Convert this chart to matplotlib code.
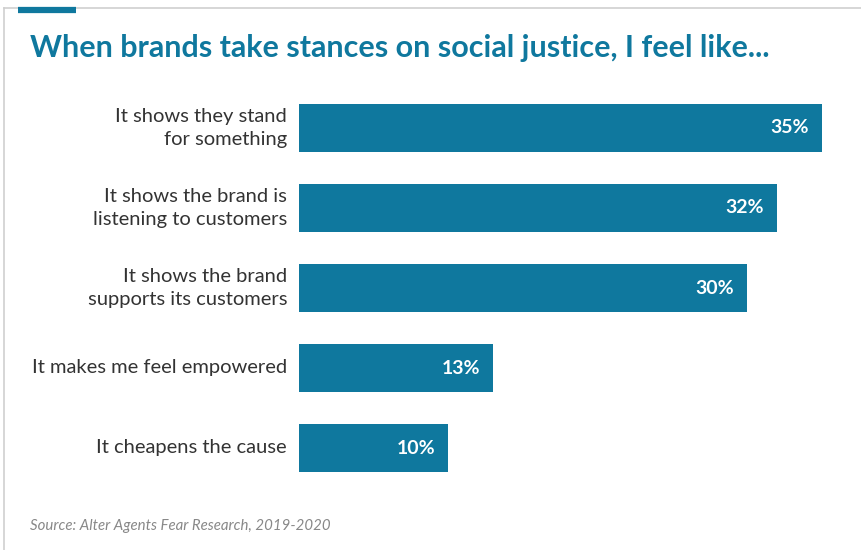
import matplotlib
matplotlib.use("Agg")
import matplotlib.pyplot as plt
from matplotlib.lines import Line2D

# survey answers, top to bottom
answers = [
    "It shows they stand\nfor something",
    "It shows the brand is\nlistening to customers",
    "It shows the brand\nsupports its customers",
    "It makes me feel empowered",
    "It cheapens the cause",
]
shares = [35, 32, 30, 13, 10]

title = "When brands take stances on social justice, I feel like..."
source = "Source: Alter Agents Fear Research, 2019-2020"

blue = "#0f789e"
W, H = 861, 550

plt.rcParams["font.family"] = ["Lato", "DejaVu Sans"]

fig = plt.figure(figsize=(W / 100, H / 100), dpi=100)
ax = fig.add_axes([299 / W, 62 / H, 523 / W, 400 / H])

pos = list(range(len(shares)))
ax.barh(pos, shares, height=0.6, color=blue)
ax.set_xlim(0, 35)
ax.set_ylim(4.5, -0.5)

for p, v in zip(pos, shares):
    ax.annotate(f"{v}%", (v, p), xytext=(-13, 0), textcoords="offset pixels",
                ha="right", va="center", color="white", fontsize=14,
                fontweight="bold")

for p, lab in zip(pos, answers):
    ax.annotate(lab, (0, p), xytext=(-12, 0), textcoords="offset pixels",
                ha="right", va="center", color="#333333", fontsize=14.5,
                linespacing=1.4, annotation_clip=False)

ax.axis("off")

# frame and accent strip
fig.add_artist(Line2D([4 / W, 4 / W], [0, 1 - 8 / H], color="#cfcfcf", lw=1.2))
fig.add_artist(Line2D([4 / W, 1], [1 - 8 / H, 1 - 8 / H], color="#cfcfcf", lw=1.2))
fig.add_artist(Line2D([18 / W, 76 / W], [1 - 10 / H, 1 - 10 / H], color=blue, lw=4.5,
                      solid_capstyle="butt"))

fig.text(30 / W, 1 - 57 / H, title, color=blue, fontsize=22, fontweight="bold",
         ha="left", va="baseline")
fig.text(30 / W, 1 - 530 / H, source, color="#888888", fontsize=10.8,
         style="italic", ha="left", va="baseline")

fig.savefig("out.png", dpi=100)
